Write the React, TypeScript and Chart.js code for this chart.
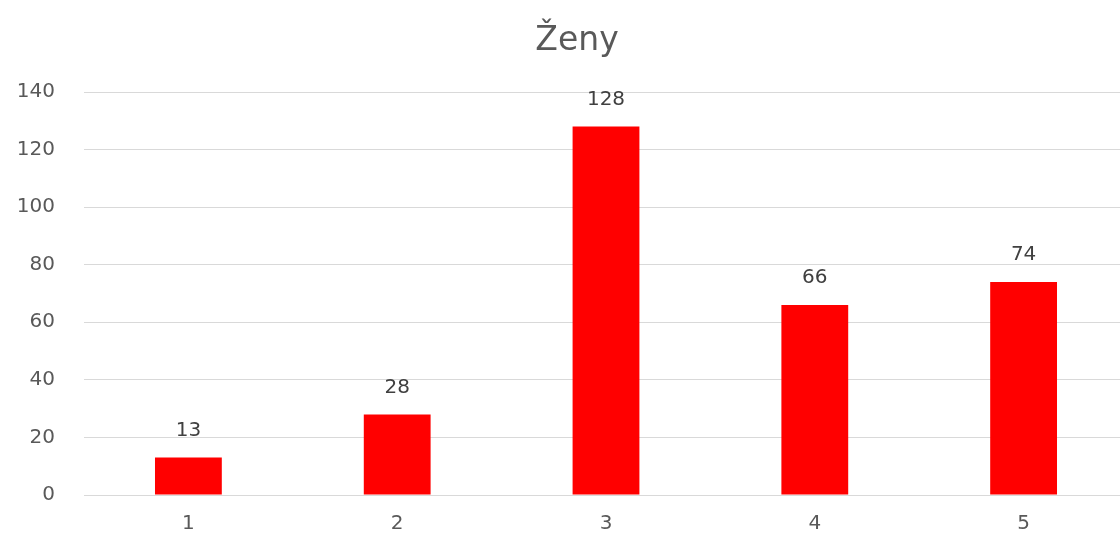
import React, { useEffect, useRef } from "react";
import { Chart, registerables } from "chart.js";

Chart.register(...registerables);

const TITLE = "Ženy";
const categories = ["1", "2", "3", "4", "5"];
const values = [13, 28, 128, 66, 74];
const yTicks = [0, 20, 40, 60, 80, 100, 120, 140];

const FONT = "'DejaVu Sans', sans-serif";
const TEXT = "#595959";

const titlePlugin = {
  id: "customTitle",
  afterDraw(chart: any) {
    const ctx = chart.ctx;
    ctx.save();
    ctx.font = `33px ${FONT}`;
    ctx.fillStyle = TEXT;
    ctx.textAlign = "center";
    ctx.textBaseline = "middle";
    ctx.fillText(TITLE, chart.width / 2, 41);
    // category labels under the axis, placed through the x scale
    const xs = chart.scales.x;
    ctx.font = `20px ${FONT}`;
    categories.forEach((c, i) => {
      ctx.fillText(c, xs.getPixelForValue(i), chart.chartArea.bottom + 29);
    });
    ctx.restore();
  },
};

const labelPlugin = {
  id: "valueLabels",
  afterDatasetsDraw(chart: any) {
    const ctx = chart.ctx;
    const meta = chart.getDatasetMeta(0);
    ctx.save();
    ctx.font = `20px ${FONT}`;
    ctx.fillStyle = "#404040";
    ctx.textAlign = "center";
    ctx.textBaseline = "middle";
    meta.data.forEach((bar: any, i: number) => {
      ctx.fillText(String(values[i]), bar.x, bar.y - 27);
    });
    ctx.restore();
  },
};

export default function App() {
  const ref = useRef<HTMLCanvasElement | null>(null);
  useEffect(() => {
    if (!ref.current) return;
    const chart = new Chart(ref.current, {
      type: "bar",
      data: {
        labels: categories,
        datasets: [
          {
            data: values,
            backgroundColor: "#FF0000",
            borderWidth: 0,
            barPercentage: 0.32,
            categoryPercentage: 1,
          },
        ],
      },
      options: {
        responsive: false,
        animation: false,
        devicePixelRatio: 1,
        layout: { padding: { top: 92, right: 26, left: 0, bottom: 35 } },
        plugins: {
          legend: { display: false },
          title: { display: false },
          tooltip: { enabled: false },
        },
        scales: {
          x: {
            display: false,
          },
          y: {
            min: 0,
            max: 140,
            afterBuildTicks(scale: any) {
              scale.ticks = yTicks.map((v) => ({ value: v }));
            },
            grid: { color: "#d9d9d9", lineWidth: 1, drawTicks: false },
            border: { display: false },
            ticks: {
              color: TEXT,
              font: { family: FONT, size: 20 },
              padding: 29,
            },
            afterFit(scale: any) {
              scale.width = 84;
            },
          },
        },
      },
      plugins: [titlePlugin, labelPlugin],
    });
    return () => chart.destroy();
  }, []);

  return (
    <div
      style={{
        position: "fixed",
        left: 0,
        top: 0,
        width: 1120,
        height: 536,
        overflow: "hidden",
        background: "#fff",
      }}
    >
      <canvas
        ref={ref}
        width={1154}
        height={536}
        style={{ position: "absolute", left: 0, top: 0, width: 1154, height: 536 }}
      />
    </div>
  );
}
